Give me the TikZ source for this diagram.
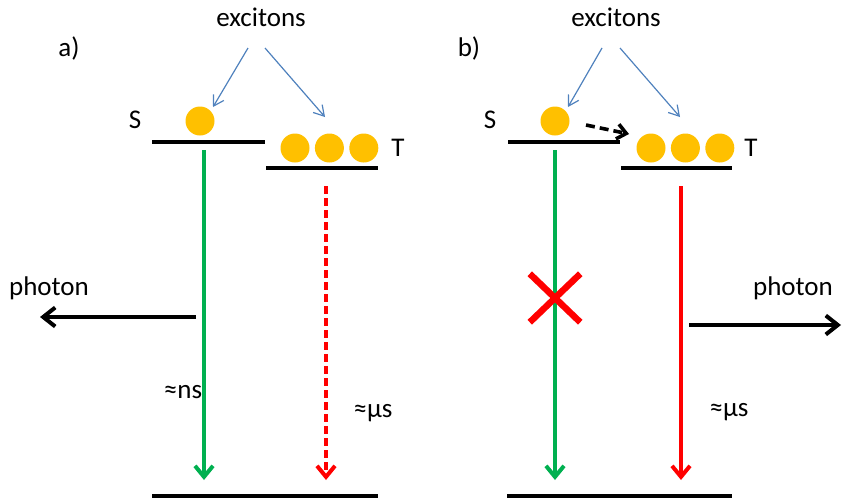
\documentclass[tikz,border=0pt]{standalone}
\usepackage{fontspec}
\setmainfont{Carlito}
\usetikzlibrary{arrows.meta, positioning, shapes.misc}
\definecolor{excgreen}{RGB}{0,176,80}
\definecolor{excred}{RGB}{255,0,0}
\definecolor{excorange}{RGB}{255,192,0}
\definecolor{excblue}{RGB}{79,129,189}
\tikzset{
  lbl/.style={anchor=base, inner sep=0pt, font=\fontsize{27}{32}\selectfont},
  level/.style={line width=4.2pt},
  exciton/.style={circle, fill=excorange, minimum size=29pt, inner sep=0pt},
  feed/.style={excblue, line width=1.2pt, -{Straight Barb[length=10pt, width=12pt]}},
  decay/.style={line width=4pt, -{Straight Barb[length=11pt, width=18pt]}},
  light/.style={black, line width=4pt, -{Straight Barb[length=12pt, width=19pt]}}
}

\begin{document}
\begin{tikzpicture}[x=1pt, y=-1pt]
\useasboundingbox (0,0) rectangle (842,499);

% ---- a) ----
\node[lbl] (tagA) at (69,56) {a)};
\node[lbl] (excA) at (261,26) {excitons};
\node[lbl] (sA) at (135,128) {S};
\node[lbl] (tA) at (398,156) {T};

\coordinate (sAl) at (152,142);
\coordinate (sAr) at (265,142);
\coordinate (tAl) at (266,168);
\coordinate (tAr) at (378,168);
\coordinate (gAl) at (152,496);
\coordinate (gAr) at (378,496);
\draw[level] (sAl) -- (sAr);
\draw[level] (tAl) -- (tAr);
\draw[level] (gAl) -- (gAr);

\node[exciton] (dA) at (200,121) {};
\node[exciton] (dA1) at (295,148) {};
\node[exciton, right=5pt of dA1] (dA2) {};
\node[exciton, right=5pt of dA2] (dA3) {};

\coordinate (fA1) at (248,48);
\coordinate (fA2) at (265,48);
\coordinate (hA1) at (213,107);
\coordinate (hA2) at (325,117);
\draw[feed] (fA1) -- (hA1);
\draw[feed] (fA2) -- (hA2);

% fluorescence and phosphorescence
\coordinate (flA) at (204,150);
\coordinate (flA') at (204,480);
\coordinate (phA) at (326,186);
\coordinate (phA') at (326,480);
\draw[decay, excgreen] (flA) -- (flA');
\draw[decay, excred, dash pattern=on 8pt off 4pt] (phA) -- (phA');

\coordinate (emA) at (196,317);
\coordinate (emA') at (40,317);
\draw[light] (emA) -- (emA');
\node[lbl] (phoA) at (49,295) {photon};
\node[lbl] (nsA) at (183,398) {≈ns};
\node[lbl] (usA) at (373,417) {≈µs};

% ---- b) ----
\node[lbl] (tagB) at (469,56) {b)};
\node[lbl] (excB) at (616,26) {excitons};
\node[lbl] (sB) at (490,128) {S};
\node[lbl] (tB) at (751,156) {T};

\coordinate (sBl) at (508,142);
\coordinate (sBr) at (620,142);
\coordinate (tBl) at (621,168);
\coordinate (tBr) at (732,168);
\coordinate (gBl) at (507,496);
\coordinate (gBr) at (732,496);
\draw[level] (sBl) -- (sBr);
\draw[level] (tBl) -- (tBr);
\draw[level] (gBl) -- (gBr);

\node[exciton] (dB) at (555,121) {};
\node[exciton] (dB1) at (651,148) {};
\node[exciton, right=5pt of dB1] (dB2) {};
\node[exciton, right=5pt of dB2] (dB3) {};

\coordinate (fB1) at (602,48);
\coordinate (fB2) at (620,48);
\coordinate (hB1) at (568,107);
\coordinate (hB2) at (680,117);
\draw[feed] (fB1) -- (hB1);
\draw[feed] (fB2) -- (hB2);

% intersystem crossing
\coordinate (isc) at (586,125);
\coordinate (isc') at (629,134);
\draw[black, line width=3.6pt, dash pattern=on 9pt off 5pt,
      -{Straight Barb[length=9pt, width=15pt]}] (isc) -- (isc');

\coordinate (flB) at (555,150);
\coordinate (flB') at (555,480);
\coordinate (phB) at (681,186);
\coordinate (phB') at (681,480);
\draw[decay, excgreen] (flB) -- (flB');
\draw[decay, excred] (phB) -- (phB');
\node[cross out, draw=excred, line width=6.5pt, minimum width=44pt,
      minimum height=42pt, inner sep=0pt] (block) at (555,298) {};

\coordinate (emB) at (689,325);
\coordinate (emB') at (841,325);
\draw[light] (emB) -- (emB');
\node[lbl] (phoB) at (793,295) {photon};
\node[lbl] (usB) at (729,416) {≈µs};
\end{tikzpicture}
\end{document}
